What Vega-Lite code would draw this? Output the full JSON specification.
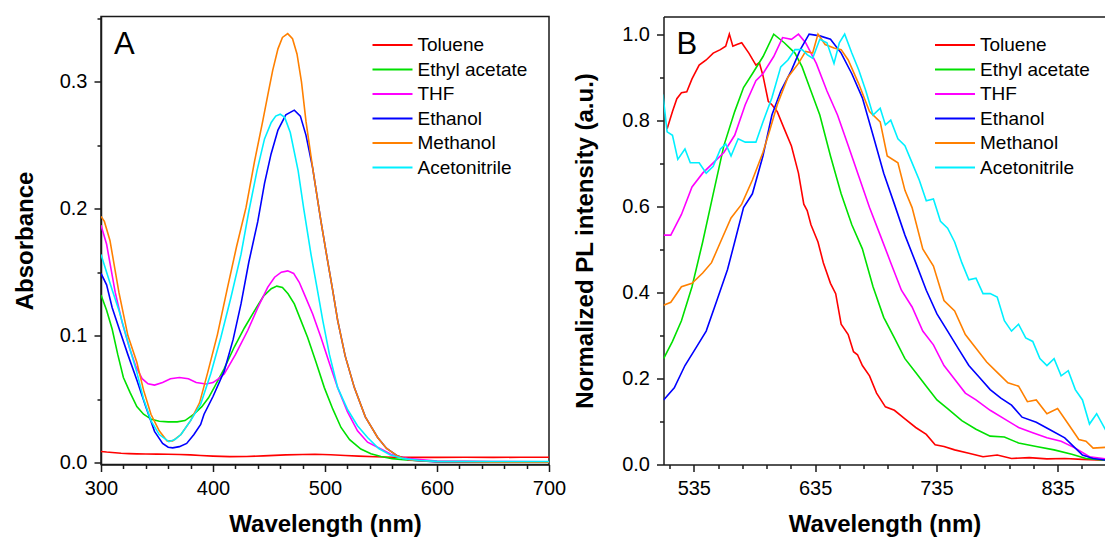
{
 "$schema": "https://vega.github.io/schema/vega-lite/v6.json",
 "background": "white",
 "padding": {"left": 12, "top": 15.5, "right": 0, "bottom": 0},
 "config": {
  "font": "Liberation Sans",
  "view": {"stroke": "#1a1a1a", "strokeWidth": 1.5},
  "axis": {"labelFontSize": 20, "labelColor": "#000", "titleFontSize": 24, "titleFontWeight": "bold", "titleColor": "#000", "domainColor": "#1a1a1a", "domainWidth": 1.5, "tickColor": "#1a1a1a", "tickWidth": 1.5, "tickSize": 7, "labelPadding": 7, "grid": false, "labelFlush": false, "labelOverlap": false, "titlePadding": 14},
  "legend": {"orient": "none", "title": null, "symbolType": "M-4,0H4", "symbolSize": 100, "symbolStrokeWidth": 2, "labelFontSize": 19, "labelColor": "#000", "labelOffset": 15.5, "rowPadding": 4.5, "padding": 0, "labelLimit": 300}
 },
 "datasets": {
  "abs": [
   {"s":"Toluene","x":300,"y":0.0087},{"s":"Toluene","x":305,"y":0.0082},{"s":"Toluene","x":310,"y":0.0079},{"s":"Toluene","x":318,"y":0.0073},{"s":"Toluene","x":325,"y":0.0070},{"s":"Toluene","x":332,"y":0.0068},{"s":"Toluene","x":340,"y":0.0067},{"s":"Toluene","x":350,"y":0.0066},{"s":"Toluene","x":360,"y":0.0065},{"s":"Toluene","x":370,"y":0.0063},{"s":"Toluene","x":380,"y":0.0060},{"s":"Toluene","x":389,"y":0.0055},{"s":"Toluene","x":400,"y":0.0050},{"s":"Toluene","x":415,"y":0.0046},{"s":"Toluene","x":430,"y":0.0047},{"s":"Toluene","x":445,"y":0.0052},{"s":"Toluene","x":465,"y":0.0060},{"s":"Toluene","x":480,"y":0.0063},{"s":"Toluene","x":491,"y":0.0065},{"s":"Toluene","x":505,"y":0.0061},{"s":"Toluene","x":518,"y":0.0055},{"s":"Toluene","x":530,"y":0.0050},{"s":"Toluene","x":545,"y":0.0045},{"s":"Toluene","x":561,"y":0.0041},{"s":"Toluene","x":580,"y":0.0040},{"s":"Toluene","x":600,"y":0.0040},{"s":"Toluene","x":625,"y":0.0041},{"s":"Toluene","x":650,"y":0.0040},{"s":"Toluene","x":675,"y":0.0041},{"s":"Toluene","x":700,"y":0.0041},
   {"s":"Ethyl acetate","x":300,"y":0.132},{"s":"Ethyl acetate","x":305,"y":0.12},{"s":"Ethyl acetate","x":310,"y":0.105},{"s":"Ethyl acetate","x":315,"y":0.085},{"s":"Ethyl acetate","x":320,"y":0.067},{"s":"Ethyl acetate","x":326,"y":0.055},{"s":"Ethyl acetate","x":332,"y":0.044},{"s":"Ethyl acetate","x":338,"y":0.038},{"s":"Ethyl acetate","x":345,"y":0.034},{"s":"Ethyl acetate","x":352,"y":0.0325},{"s":"Ethyl acetate","x":360,"y":0.032},{"s":"Ethyl acetate","x":368,"y":0.032},{"s":"Ethyl acetate","x":375,"y":0.033},{"s":"Ethyl acetate","x":383,"y":0.038},{"s":"Ethyl acetate","x":390,"y":0.044},{"s":"Ethyl acetate","x":396,"y":0.051},{"s":"Ethyl acetate","x":401,"y":0.059},{"s":"Ethyl acetate","x":410,"y":0.074},{"s":"Ethyl acetate","x":419,"y":0.091},{"s":"Ethyl acetate","x":428,"y":0.106},{"s":"Ethyl acetate","x":437,"y":0.1195},{"s":"Ethyl acetate","x":445,"y":0.131},{"s":"Ethyl acetate","x":452,"y":0.137},{"s":"Ethyl acetate","x":457,"y":0.139},{"s":"Ethyl acetate","x":462,"y":0.138},{"s":"Ethyl acetate","x":467,"y":0.133},{"s":"Ethyl acetate","x":472.6,"y":0.125},{"s":"Ethyl acetate","x":478,"y":0.113},{"s":"Ethyl acetate","x":484.5,"y":0.0985},{"s":"Ethyl acetate","x":492,"y":0.079},{"s":"Ethyl acetate","x":499.4,"y":0.059},{"s":"Ethyl acetate","x":507,"y":0.042},{"s":"Ethyl acetate","x":514.3,"y":0.0276},{"s":"Ethyl acetate","x":522,"y":0.018},{"s":"Ethyl acetate","x":532,"y":0.0106},{"s":"Ethyl acetate","x":541,"y":0.0068},{"s":"Ethyl acetate","x":550,"y":0.0047},{"s":"Ethyl acetate","x":560,"y":0.003},{"s":"Ethyl acetate","x":575,"y":0.0018},{"s":"Ethyl acetate","x":600,"y":0.001},{"s":"Ethyl acetate","x":650,"y":0.0006},{"s":"Ethyl acetate","x":700,"y":0.0005},
   {"s":"THF","x":300,"y":0.187},{"s":"THF","x":305,"y":0.172},{"s":"THF","x":312.7,"y":0.134},{"s":"THF","x":319,"y":0.11},{"s":"THF","x":325.5,"y":0.09},{"s":"THF","x":331,"y":0.076},{"s":"THF","x":336.7,"y":0.066},{"s":"THF","x":342,"y":0.062},{"s":"THF","x":347.8,"y":0.061},{"s":"THF","x":355,"y":0.063},{"s":"THF","x":362,"y":0.066},{"s":"THF","x":370,"y":0.067},{"s":"THF","x":378,"y":0.066},{"s":"THF","x":385,"y":0.063},{"s":"THF","x":393.75,"y":0.0618},{"s":"THF","x":400,"y":0.063},{"s":"THF","x":405,"y":0.066},{"s":"THF","x":410,"y":0.0697},{"s":"THF","x":420,"y":0.085},{"s":"THF","x":431,"y":0.104},{"s":"THF","x":440,"y":0.122},{"s":"THF","x":448.8,"y":0.138},{"s":"THF","x":455,"y":0.146},{"s":"THF","x":461,"y":0.150},{"s":"THF","x":466.7,"y":0.151},{"s":"THF","x":472,"y":0.149},{"s":"THF","x":477,"y":0.142},{"s":"THF","x":481.5,"y":0.1327},{"s":"THF","x":489,"y":0.117},{"s":"THF","x":496.4,"y":0.0985},{"s":"THF","x":504,"y":0.078},{"s":"THF","x":511.3,"y":0.059},{"s":"THF","x":520,"y":0.040},{"s":"THF","x":529,"y":0.025},{"s":"THF","x":538,"y":0.016},{"s":"THF","x":550,"y":0.0106},{"s":"THF","x":560,"y":0.006},{"s":"THF","x":575,"y":0.003},{"s":"THF","x":600,"y":0.0012},{"s":"THF","x":650,"y":0.0007},{"s":"THF","x":700,"y":0.0006},
   {"s":"Ethanol","x":300,"y":0.149},{"s":"Ethanol","x":305,"y":0.14},{"s":"Ethanol","x":310,"y":0.122},{"s":"Ethanol","x":316,"y":0.106},{"s":"Ethanol","x":324,"y":0.085},{"s":"Ethanol","x":332,"y":0.065},{"s":"Ethanol","x":340,"y":0.044},{"s":"Ethanol","x":347.8,"y":0.0245},{"s":"Ethanol","x":355,"y":0.015},{"s":"Ethanol","x":360,"y":0.012},{"s":"Ethanol","x":364,"y":0.0115},{"s":"Ethanol","x":370,"y":0.0125},{"s":"Ethanol","x":376.5,"y":0.015},{"s":"Ethanol","x":383,"y":0.022},{"s":"Ethanol","x":389,"y":0.03},{"s":"Ethanol","x":392,"y":0.038},{"s":"Ethanol","x":400,"y":0.052},{"s":"Ethanol","x":410,"y":0.072},{"s":"Ethanol","x":418,"y":0.097},{"s":"Ethanol","x":425,"y":0.125},{"s":"Ethanol","x":432,"y":0.158},{"s":"Ethanol","x":440,"y":0.19},{"s":"Ethanol","x":446,"y":0.22},{"s":"Ethanol","x":451.8,"y":0.243},{"s":"Ethanol","x":458,"y":0.262},{"s":"Ethanol","x":465,"y":0.274},{"s":"Ethanol","x":472.6,"y":0.2777},{"s":"Ethanol","x":478,"y":0.273},{"s":"Ethanol","x":483,"y":0.258},{"s":"Ethanol","x":489,"y":0.232},{"s":"Ethanol","x":496.4,"y":0.19},{"s":"Ethanol","x":502.3,"y":0.159},{"s":"Ethanol","x":507,"y":0.135},{"s":"Ethanol","x":511.3,"y":0.112},{"s":"Ethanol","x":518,"y":0.084},{"s":"Ethanol","x":526.2,"y":0.059},{"s":"Ethanol","x":536,"y":0.036},{"s":"Ethanol","x":547,"y":0.0197},{"s":"Ethanol","x":555,"y":0.011},{"s":"Ethanol","x":565,"y":0.005},{"s":"Ethanol","x":575,"y":0.002},{"s":"Ethanol","x":600,"y":0.0005},{"s":"Ethanol","x":650,"y":0.0002},{"s":"Ethanol","x":700,"y":0.0002},
   {"s":"Methanol","x":300,"y":0.194},{"s":"Methanol","x":303,"y":0.19},{"s":"Methanol","x":308,"y":0.175},{"s":"Methanol","x":316,"y":0.134},{"s":"Methanol","x":324,"y":0.1},{"s":"Methanol","x":332,"y":0.079},{"s":"Methanol","x":338,"y":0.057},{"s":"Methanol","x":344.6,"y":0.038},{"s":"Methanol","x":352,"y":0.025},{"s":"Methanol","x":359,"y":0.017},{"s":"Methanol","x":364,"y":0.017},{"s":"Methanol","x":371.4,"y":0.022},{"s":"Methanol","x":380,"y":0.033},{"s":"Methanol","x":388,"y":0.047},{"s":"Methanol","x":395,"y":0.07},{"s":"Methanol","x":404,"y":0.101},{"s":"Methanol","x":413,"y":0.138},{"s":"Methanol","x":421,"y":0.17},{"s":"Methanol","x":429.5,"y":0.201},{"s":"Methanol","x":437,"y":0.237},{"s":"Methanol","x":444.4,"y":0.269},{"s":"Methanol","x":449,"y":0.29},{"s":"Methanol","x":453.3,"y":0.309},{"s":"Methanol","x":458,"y":0.326},{"s":"Methanol","x":462,"y":0.335},{"s":"Methanol","x":466.7,"y":0.338},{"s":"Methanol","x":471,"y":0.334},{"s":"Methanol","x":475,"y":0.322},{"s":"Methanol","x":479,"y":0.3},{"s":"Methanol","x":483,"y":0.269},{"s":"Methanol","x":489,"y":0.232},{"s":"Methanol","x":496.4,"y":0.19},{"s":"Methanol","x":502.3,"y":0.159},{"s":"Methanol","x":507,"y":0.135},{"s":"Methanol","x":511.3,"y":0.112},{"s":"Methanol","x":518,"y":0.084},{"s":"Methanol","x":526.2,"y":0.059},{"s":"Methanol","x":536,"y":0.036},{"s":"Methanol","x":547,"y":0.0197},{"s":"Methanol","x":555,"y":0.011},{"s":"Methanol","x":565,"y":0.005},{"s":"Methanol","x":575,"y":0.002},{"s":"Methanol","x":600,"y":0.0006},{"s":"Methanol","x":650,"y":0.0003},{"s":"Methanol","x":700,"y":0.0003},
   {"s":"Acetonitrile","x":300,"y":0.164},{"s":"Acetonitrile","x":305,"y":0.15},{"s":"Acetonitrile","x":310,"y":0.136},{"s":"Acetonitrile","x":316,"y":0.12},{"s":"Acetonitrile","x":324,"y":0.095},{"s":"Acetonitrile","x":332,"y":0.071},{"s":"Acetonitrile","x":338,"y":0.05},{"s":"Acetonitrile","x":344.6,"y":0.033},{"s":"Acetonitrile","x":352,"y":0.022},{"s":"Acetonitrile","x":360.6,"y":0.0164},{"s":"Acetonitrile","x":366,"y":0.018},{"s":"Acetonitrile","x":371.4,"y":0.022},{"s":"Acetonitrile","x":380,"y":0.033},{"s":"Acetonitrile","x":389,"y":0.046},{"s":"Acetonitrile","x":398,"y":0.07},{"s":"Acetonitrile","x":407,"y":0.0985},{"s":"Acetonitrile","x":416,"y":0.13},{"s":"Acetonitrile","x":425,"y":0.164},{"s":"Acetonitrile","x":432,"y":0.198},{"s":"Acetonitrile","x":439.3,"y":0.23},{"s":"Acetonitrile","x":446,"y":0.255},{"s":"Acetonitrile","x":452,"y":0.268},{"s":"Acetonitrile","x":456,"y":0.273},{"s":"Acetonitrile","x":460,"y":0.2745},{"s":"Acetonitrile","x":464,"y":0.272},{"s":"Acetonitrile","x":469,"y":0.26},{"s":"Acetonitrile","x":476,"y":0.23},{"s":"Acetonitrile","x":481,"y":0.2},{"s":"Acetonitrile","x":487.5,"y":0.164},{"s":"Acetonitrile","x":493,"y":0.137},{"s":"Acetonitrile","x":498,"y":0.112},{"s":"Acetonitrile","x":504,"y":0.085},{"s":"Acetonitrile","x":511.3,"y":0.059},{"s":"Acetonitrile","x":520,"y":0.042},{"s":"Acetonitrile","x":529,"y":0.029},{"s":"Acetonitrile","x":538,"y":0.0197},{"s":"Acetonitrile","x":548,"y":0.011},{"s":"Acetonitrile","x":558,"y":0.006},{"s":"Acetonitrile","x":570,"y":0.003},{"s":"Acetonitrile","x":585,"y":0.0015},{"s":"Acetonitrile","x":600,"y":0.0009},{"s":"Acetonitrile","x":650,"y":0.0008},{"s":"Acetonitrile","x":700,"y":0.0008}
  ],
  "pl": [
   {"s":"Toluene","x":513,"y":0.78},{"s":"Toluene","x":517.4,"y":0.82},{"s":"Toluene","x":521,"y":0.85},{"s":"Toluene","x":524.8,"y":0.864},{"s":"Toluene","x":529.2,"y":0.866},{"s":"Toluene","x":533.5,"y":0.896},{"s":"Toluene","x":539.4,"y":0.928},{"s":"Toluene","x":545.2,"y":0.94},{"s":"Toluene","x":551,"y":0.956},{"s":"Toluene","x":556.9,"y":0.964},{"s":"Toluene","x":561.3,"y":0.972},{"s":"Toluene","x":564.3,"y":1.0},{"s":"Toluene","x":567.2,"y":0.972},{"s":"Toluene","x":570.5,"y":0.976},{"s":"Toluene","x":574.5,"y":0.98},{"s":"Toluene","x":580.4,"y":0.956},{"s":"Toluene","x":586.2,"y":0.928},{"s":"Toluene","x":589,"y":0.934},{"s":"Toluene","x":592,"y":0.904},{"s":"Toluene","x":596.4,"y":0.844},{"s":"Toluene","x":599.4,"y":0.836},{"s":"Toluene","x":603.8,"y":0.82},{"s":"Toluene","x":609.6,"y":0.78},{"s":"Toluene","x":615.5,"y":0.74},{"s":"Toluene","x":621.3,"y":0.677},{"s":"Toluene","x":625.7,"y":0.605},{"s":"Toluene","x":628.5,"y":0.59},{"s":"Toluene","x":631.6,"y":0.557},{"s":"Toluene","x":637.4,"y":0.517},{"s":"Toluene","x":641.8,"y":0.469},{"s":"Toluene","x":647.7,"y":0.421},{"s":"Toluene","x":652,"y":0.397},{"s":"Toluene","x":656.5,"y":0.326},{"s":"Toluene","x":662.3,"y":0.302},{"s":"Toluene","x":666.7,"y":0.262},{"s":"Toluene","x":670,"y":0.255},{"s":"Toluene","x":674,"y":0.23},{"s":"Toluene","x":679.9,"y":0.206},{"s":"Toluene","x":685.7,"y":0.166},{"s":"Toluene","x":693,"y":0.134},{"s":"Toluene","x":700.4,"y":0.126},{"s":"Toluene","x":709.1,"y":0.106},{"s":"Toluene","x":718,"y":0.086},{"s":"Toluene","x":726.7,"y":0.07},{"s":"Toluene","x":734,"y":0.046},{"s":"Toluene","x":741.3,"y":0.042},{"s":"Toluene","x":750.1,"y":0.034},{"s":"Toluene","x":761.8,"y":0.026},{"s":"Toluene","x":773.5,"y":0.018},{"s":"Toluene","x":785.2,"y":0.022},{"s":"Toluene","x":797,"y":0.014},{"s":"Toluene","x":811.6,"y":0.016},{"s":"Toluene","x":826.2,"y":0.013},{"s":"Toluene","x":840.9,"y":0.014},{"s":"Toluene","x":855.5,"y":0.012},{"s":"Toluene","x":875,"y":0.01},
   {"s":"Ethyl acetate","x":510.1,"y":0.246},{"s":"Ethyl acetate","x":517.4,"y":0.286},{"s":"Ethyl acetate","x":524.8,"y":0.334},{"s":"Ethyl acetate","x":533.5,"y":0.413},{"s":"Ethyl acetate","x":542.3,"y":0.517},{"s":"Ethyl acetate","x":551,"y":0.629},{"s":"Ethyl acetate","x":559.8,"y":0.741},{"s":"Ethyl acetate","x":568.7,"y":0.82},{"s":"Ethyl acetate","x":576,"y":0.876},{"s":"Ethyl acetate","x":583.3,"y":0.908},{"s":"Ethyl acetate","x":592.1,"y":0.948},{"s":"Ethyl acetate","x":600.9,"y":1.0},{"s":"Ethyl acetate","x":609.6,"y":0.98},{"s":"Ethyl acetate","x":618.4,"y":0.956},{"s":"Ethyl acetate","x":624.3,"y":0.924},{"s":"Ethyl acetate","x":631.6,"y":0.868},{"s":"Ethyl acetate","x":638.9,"y":0.812},{"s":"Ethyl acetate","x":647.7,"y":0.717},{"s":"Ethyl acetate","x":656.5,"y":0.629},{"s":"Ethyl acetate","x":665.3,"y":0.557},{"s":"Ethyl acetate","x":674,"y":0.501},{"s":"Ethyl acetate","x":682.8,"y":0.413},{"s":"Ethyl acetate","x":691.6,"y":0.342},{"s":"Ethyl acetate","x":700.4,"y":0.294},{"s":"Ethyl acetate","x":709.1,"y":0.246},{"s":"Ethyl acetate","x":718,"y":0.214},{"s":"Ethyl acetate","x":726.7,"y":0.182},{"s":"Ethyl acetate","x":735.5,"y":0.15},{"s":"Ethyl acetate","x":744.3,"y":0.13},{"s":"Ethyl acetate","x":756,"y":0.102},{"s":"Ethyl acetate","x":767.7,"y":0.082},{"s":"Ethyl acetate","x":779.4,"y":0.066},{"s":"Ethyl acetate","x":791.1,"y":0.064},{"s":"Ethyl acetate","x":802.8,"y":0.05},{"s":"Ethyl acetate","x":817.4,"y":0.042},{"s":"Ethyl acetate","x":832.1,"y":0.034},{"s":"Ethyl acetate","x":846.7,"y":0.024},{"s":"Ethyl acetate","x":858.4,"y":0.014},{"s":"Ethyl acetate","x":875,"y":0.01},
   {"s":"THF","x":510.1,"y":0.533},{"s":"THF","x":516,"y":0.533},{"s":"THF","x":524.8,"y":0.581},{"s":"THF","x":533.5,"y":0.645},{"s":"THF","x":542.3,"y":0.677},{"s":"THF","x":551,"y":0.701},{"s":"THF","x":559.8,"y":0.725},{"s":"THF","x":568.7,"y":0.765},{"s":"THF","x":577.4,"y":0.836},{"s":"THF","x":586.2,"y":0.892},{"s":"THF","x":592,"y":0.908},{"s":"THF","x":600.9,"y":0.948},{"s":"THF","x":608.2,"y":0.992},{"s":"THF","x":615.5,"y":0.988},{"s":"THF","x":621.3,"y":1.0},{"s":"THF","x":627.2,"y":0.98},{"s":"THF","x":636,"y":0.932},{"s":"THF","x":644.8,"y":0.868},{"s":"THF","x":653.5,"y":0.812},{"s":"THF","x":662.3,"y":0.741},{"s":"THF","x":671.1,"y":0.669},{"s":"THF","x":679.9,"y":0.597},{"s":"THF","x":688.7,"y":0.533},{"s":"THF","x":697.4,"y":0.469},{"s":"THF","x":706.2,"y":0.405},{"s":"THF","x":715,"y":0.366},{"s":"THF","x":723.8,"y":0.31},{"s":"THF","x":732.6,"y":0.278},{"s":"THF","x":741.3,"y":0.23},{"s":"THF","x":750.1,"y":0.198},{"s":"THF","x":758.9,"y":0.166},{"s":"THF","x":767.7,"y":0.15},{"s":"THF","x":779.4,"y":0.126},{"s":"THF","x":791.1,"y":0.106},{"s":"THF","x":802.8,"y":0.086},{"s":"THF","x":814.5,"y":0.074},{"s":"THF","x":826.2,"y":0.062},{"s":"THF","x":837.9,"y":0.054},{"s":"THF","x":849.6,"y":0.038},{"s":"THF","x":861.3,"y":0.018},{"s":"THF","x":875,"y":0.013},
   {"s":"Ethanol","x":510.1,"y":0.15},{"s":"Ethanol","x":518.9,"y":0.178},{"s":"Ethanol","x":527.7,"y":0.23},{"s":"Ethanol","x":536.5,"y":0.27},{"s":"Ethanol","x":545.2,"y":0.31},{"s":"Ethanol","x":554,"y":0.381},{"s":"Ethanol","x":562.8,"y":0.453},{"s":"Ethanol","x":568.7,"y":0.517},{"s":"Ethanol","x":576,"y":0.597},{"s":"Ethanol","x":583.3,"y":0.629},{"s":"Ethanol","x":592,"y":0.717},{"s":"Ethanol","x":599.4,"y":0.812},{"s":"Ethanol","x":606.7,"y":0.868},{"s":"Ethanol","x":615.5,"y":0.916},{"s":"Ethanol","x":622.8,"y":0.964},{"s":"Ethanol","x":630.1,"y":1.0},{"s":"Ethanol","x":638.9,"y":0.996},{"s":"Ethanol","x":647.7,"y":0.988},{"s":"Ethanol","x":656.5,"y":0.956},{"s":"Ethanol","x":665.3,"y":0.908},{"s":"Ethanol","x":674,"y":0.852},{"s":"Ethanol","x":682.8,"y":0.765},{"s":"Ethanol","x":691.6,"y":0.677},{"s":"Ethanol","x":700.4,"y":0.605},{"s":"Ethanol","x":709.1,"y":0.533},{"s":"Ethanol","x":718,"y":0.469},{"s":"Ethanol","x":726.7,"y":0.405},{"s":"Ethanol","x":735.5,"y":0.35},{"s":"Ethanol","x":744.3,"y":0.31},{"s":"Ethanol","x":753,"y":0.27},{"s":"Ethanol","x":761.8,"y":0.23},{"s":"Ethanol","x":770.6,"y":0.202},{"s":"Ethanol","x":779.4,"y":0.174},{"s":"Ethanol","x":788.2,"y":0.154},{"s":"Ethanol","x":797,"y":0.138},{"s":"Ethanol","x":805.7,"y":0.11},{"s":"Ethanol","x":817.4,"y":0.098},{"s":"Ethanol","x":829.1,"y":0.08},{"s":"Ethanol","x":840.9,"y":0.062},{"s":"Ethanol","x":849.6,"y":0.038},{"s":"Ethanol","x":855.5,"y":0.022},{"s":"Ethanol","x":864.3,"y":0.014},{"s":"Ethanol","x":875,"y":0.01},
   {"s":"Methanol","x":510.1,"y":0.37},{"s":"Methanol","x":516,"y":0.377},{"s":"Methanol","x":524.8,"y":0.413},{"s":"Methanol","x":533.5,"y":0.421},{"s":"Methanol","x":542.3,"y":0.445},{"s":"Methanol","x":549.6,"y":0.469},{"s":"Methanol","x":557,"y":0.517},{"s":"Methanol","x":565.7,"y":0.573},{"s":"Methanol","x":574.5,"y":0.605},{"s":"Methanol","x":583.3,"y":0.661},{"s":"Methanol","x":592,"y":0.725},{"s":"Methanol","x":598,"y":0.78},{"s":"Methanol","x":603.8,"y":0.836},{"s":"Methanol","x":612.6,"y":0.9},{"s":"Methanol","x":621.3,"y":0.932},{"s":"Methanol","x":627.2,"y":0.96},{"s":"Methanol","x":633,"y":0.956},{"s":"Methanol","x":637.4,"y":1.0},{"s":"Methanol","x":643.3,"y":0.976},{"s":"Methanol","x":650.6,"y":0.968},{"s":"Methanol","x":656.5,"y":0.964},{"s":"Methanol","x":662.3,"y":0.94},{"s":"Methanol","x":671.1,"y":0.884},{"s":"Methanol","x":679.9,"y":0.82},{"s":"Methanol","x":688.7,"y":0.796},{"s":"Methanol","x":694.5,"y":0.717},{"s":"Methanol","x":703.3,"y":0.701},{"s":"Methanol","x":709.1,"y":0.637},{"s":"Methanol","x":715,"y":0.597},{"s":"Methanol","x":723.8,"y":0.501},{"s":"Methanol","x":732.6,"y":0.461},{"s":"Methanol","x":741.3,"y":0.381},{"s":"Methanol","x":750.1,"y":0.357},{"s":"Methanol","x":758.9,"y":0.302},{"s":"Methanol","x":767.7,"y":0.27},{"s":"Methanol","x":776.5,"y":0.238},{"s":"Methanol","x":785.2,"y":0.214},{"s":"Methanol","x":794,"y":0.19},{"s":"Methanol","x":802.8,"y":0.182},{"s":"Methanol","x":810.1,"y":0.146},{"s":"Methanol","x":817.4,"y":0.15},{"s":"Methanol","x":826.2,"y":0.118},{"s":"Methanol","x":835,"y":0.13},{"s":"Methanol","x":843.8,"y":0.094},{"s":"Methanol","x":852.5,"y":0.058},{"s":"Methanol","x":858.4,"y":0.054},{"s":"Methanol","x":864.3,"y":0.038},{"s":"Methanol","x":875,"y":0.04},
   {"s":"Acetonitrile","x":509.5,"y":0.86},{"s":"Acetonitrile","x":513,"y":0.773},{"s":"Acetonitrile","x":517.4,"y":0.765},{"s":"Acetonitrile","x":521.8,"y":0.709},{"s":"Acetonitrile","x":527.7,"y":0.733},{"s":"Acetonitrile","x":532.1,"y":0.701},{"s":"Acetonitrile","x":539.4,"y":0.701},{"s":"Acetonitrile","x":545.2,"y":0.677},{"s":"Acetonitrile","x":551,"y":0.693},{"s":"Acetonitrile","x":557,"y":0.733},{"s":"Acetonitrile","x":561.3,"y":0.745},{"s":"Acetonitrile","x":565.7,"y":0.717},{"s":"Acetonitrile","x":571.6,"y":0.757},{"s":"Acetonitrile","x":577.4,"y":0.749},{"s":"Acetonitrile","x":586.2,"y":0.749},{"s":"Acetonitrile","x":592,"y":0.796},{"s":"Acetonitrile","x":599.4,"y":0.852},{"s":"Acetonitrile","x":606.7,"y":0.924},{"s":"Acetonitrile","x":612.6,"y":0.94},{"s":"Acetonitrile","x":618.4,"y":0.964},{"s":"Acetonitrile","x":624.3,"y":0.964},{"s":"Acetonitrile","x":628.7,"y":0.952},{"s":"Acetonitrile","x":633,"y":0.944},{"s":"Acetonitrile","x":638.9,"y":0.988},{"s":"Acetonitrile","x":644.8,"y":0.98},{"s":"Acetonitrile","x":650.6,"y":0.932},{"s":"Acetonitrile","x":655,"y":0.98},{"s":"Acetonitrile","x":659.4,"y":1.0},{"s":"Acetonitrile","x":665.3,"y":0.956},{"s":"Acetonitrile","x":671.1,"y":0.916},{"s":"Acetonitrile","x":676.9,"y":0.868},{"s":"Acetonitrile","x":682.8,"y":0.812},{"s":"Acetonitrile","x":688.7,"y":0.828},{"s":"Acetonitrile","x":693,"y":0.789},{"s":"Acetonitrile","x":697.4,"y":0.8},{"s":"Acetonitrile","x":703.3,"y":0.757},{"s":"Acetonitrile","x":709.1,"y":0.741},{"s":"Acetonitrile","x":715,"y":0.701},{"s":"Acetonitrile","x":720.9,"y":0.661},{"s":"Acetonitrile","x":726.7,"y":0.613},{"s":"Acetonitrile","x":732.6,"y":0.617},{"s":"Acetonitrile","x":738.4,"y":0.565},{"s":"Acetonitrile","x":744.3,"y":0.549},{"s":"Acetonitrile","x":750.1,"y":0.517},{"s":"Acetonitrile","x":756,"y":0.469},{"s":"Acetonitrile","x":761.8,"y":0.429},{"s":"Acetonitrile","x":767.7,"y":0.433},{"s":"Acetonitrile","x":773.5,"y":0.397},{"s":"Acetonitrile","x":779.4,"y":0.397},{"s":"Acetonitrile","x":785.2,"y":0.389},{"s":"Acetonitrile","x":791.1,"y":0.334},{"s":"Acetonitrile","x":797,"y":0.31},{"s":"Acetonitrile","x":802.8,"y":0.326},{"s":"Acetonitrile","x":808.7,"y":0.294},{"s":"Acetonitrile","x":814.5,"y":0.286},{"s":"Acetonitrile","x":820.4,"y":0.246},{"s":"Acetonitrile","x":826.2,"y":0.23},{"s":"Acetonitrile","x":832.1,"y":0.246},{"s":"Acetonitrile","x":837.9,"y":0.206},{"s":"Acetonitrile","x":843.8,"y":0.218},{"s":"Acetonitrile","x":849.6,"y":0.174},{"s":"Acetonitrile","x":855.5,"y":0.15},{"s":"Acetonitrile","x":861.3,"y":0.094},{"s":"Acetonitrile","x":867.2,"y":0.118},{"s":"Acetonitrile","x":875,"y":0.078}
  ]
 },
 "hconcat": [
  {
   "width": 448, "height": 448,
   "title": {"text": "A", "anchor": "start", "frame": "group", "fontSize": 31, "fontWeight": "normal", "color": "#000", "offset": -44.5, "dx": 13},
   "layer": [
    {
     "data": {"name": "abs"},
     "mark": {"type": "line", "strokeWidth": 1.6, "clip": true},
     "encoding": {
      "x": {"field": "x", "type": "quantitative", "scale": {"domain": [300, 700], "nice": false, "zero": false}, "axis": {"values": [300, 400, 500, 600, 700], "title": "Wavelength (nm)"}},
      "y": {"field": "y", "type": "quantitative", "scale": {"domain": [-0.0016, 0.3515], "nice": false, "zero": false}, "axis": {"values": [0, 0.1, 0.2, 0.3], "format": ".1f", "title": "Absorbance", "titlePadding": 22}},
      "color": {"field": "s", "type": "nominal", "scale": {"domain": ["Toluene", "Ethyl acetate", "THF", "Ethanol", "Methanol", "Acetonitrile"], "range": ["#ff0000", "#00e000", "#ff00ff", "#0000ff", "#ff8000", "#00f0ff"]}, "legend": {"legendX": 282, "legendY": 19}}
     }
    },
    {
     "data": {"name": "abs"},
     "mark": {"type": "point", "opacity": 0, "clip": true},
     "encoding": {
      "x": {"field": "x", "type": "quantitative", "axis": {"orient": "bottom", "values": [320, 340, 360, 380, 420, 440, 460, 480, 520, 540, 560, 580, 620, 640, 660, 680], "labels": false, "domain": false, "tickSize": 4, "title": null}},
      "y": {"field": "y", "type": "quantitative", "axis": {"orient": "left", "values": [0.05, 0.15, 0.25, 0.35], "labels": false, "domain": false, "tickSize": 4, "title": null}}
     }
    }
   ],
   "resolve": {"axis": {"x": "independent", "y": "independent"}}
  },
  {
   "width": 442, "height": 448,
   "view": {"stroke": null},
   "title": {"text": "B", "anchor": "start", "frame": "group", "fontSize": 31, "fontWeight": "normal", "color": "#000", "offset": -44.5, "dx": 13},
   "layer": [
    {
     "data": {"name": "pl"},
     "mark": {"type": "line", "strokeWidth": 1.6, "clip": true},
     "encoding": {
      "x": {"field": "x", "type": "quantitative", "scale": {"domain": [510, 874.5], "nice": false, "zero": false}, "axis": {"values": [535, 635, 735, 835], "title": "Wavelength (nm)"}},
      "y": {"field": "y", "type": "quantitative", "scale": {"domain": [0, 1.041], "nice": false}, "axis": {"values": [0, 0.2, 0.4, 0.6, 0.8, 1.0], "format": ".1f", "title": "Normalized PL intensity (a.u.)", "titlePadding": 24}},
      "color": {"field": "s", "type": "nominal", "scale": {"domain": ["Toluene", "Ethyl acetate", "THF", "Ethanol", "Methanol", "Acetonitrile"], "range": ["#ff0000", "#00e000", "#ff00ff", "#0000ff", "#ff8000", "#00f0ff"]}, "legend": {"legendX": 282, "legendY": 19}}
     }
    },
    {
     "data": {"name": "pl"},
     "mark": {"type": "point", "opacity": 0, "clip": true},
     "encoding": {
      "x": {"field": "x", "type": "quantitative", "axis": {"orient": "bottom", "values": [515, 555, 575, 595, 615, 655, 675, 695, 715, 755, 775, 795, 815, 855], "labels": false, "domain": false, "tickSize": 4, "title": null}},
      "y": {"field": "y", "type": "quantitative", "axis": {"orient": "left", "values": [0.1, 0.3, 0.5, 0.7, 0.9], "labels": false, "domain": false, "tickSize": 4, "title": null}}
     }
    },
    {
     "data": {"name": "pl"},
     "mark": {"type": "point", "opacity": 0, "clip": true},
     "encoding": {
      "x": {"field": "x", "type": "quantitative", "axis": {"orient": "top", "ticks": false, "labels": false, "domain": true, "title": null}},
      "y": {"field": "y", "type": "quantitative", "axis": null}
     }
    }
   ],
   "resolve": {"axis": {"x": "independent", "y": "independent"}}
  }
 ],
 "spacing": 6.5,
 "resolve": {"scale": {"color": "independent"}, "legend": {"color": "independent"}}
}
